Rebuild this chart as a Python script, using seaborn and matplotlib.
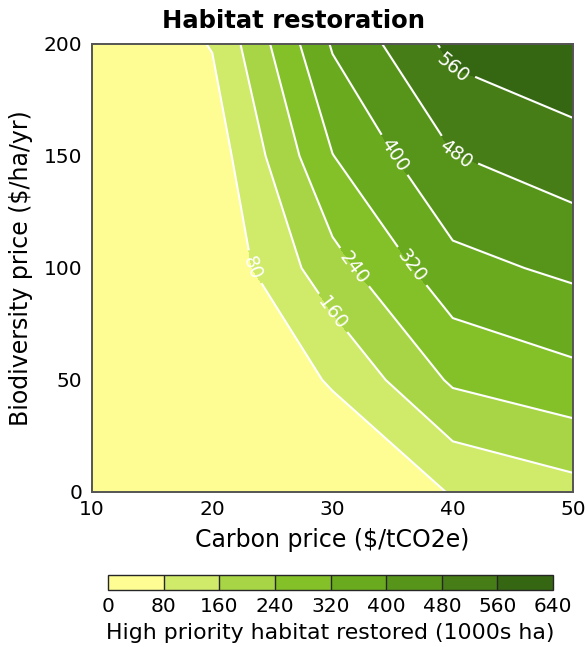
import numpy as np
import pandas as pd
import seaborn as sns
import matplotlib
matplotlib.use("Agg")
import matplotlib.pyplot as plt

# Grid of prices the model was run on
carbon_price = [10, 20, 30, 40, 50]          # $/tCO2e
biodiversity_price = [0, 50, 100, 150, 200]  # $/ha/yr

# High priority habitat restored (1000s ha), one row per biodiversity price
restored_bio_0 = [0, 0, 15, 84, 132]
restored_bio_50 = [0, 5, 87, 252, 296]
restored_bio_100 = [0, 16, 210, 375, 417]
restored_bio_150 = [0, 34, 318, 477, 526]
restored_bio_200 = [0, 84, 408, 582, 626]

levels = [0, 80, 160, 240, 320, 400, 480, 560, 640]
band_colors = ["#fdfd94", "#d0ea69", "#a8d545", "#84c128", "#6aaa1e",
               "#57951a", "#467d16", "#356612"]

# where the contour labels sit (carbon, biodiversity)
label_spots = [(23.3, 100), (29.8, 79), (32.0, 101), (36.4, 100),
               (35.0, 150), (40.3, 151), (40.0, 189)]

sns.set_style("ticks")
plt.rcParams['font.family'] = ['DejaVu Sans']
plt.rcParams['text.color'] = 'black'

table = pd.DataFrame([restored_bio_0, restored_bio_50, restored_bio_100,
                      restored_bio_150, restored_bio_200],
                     index=biodiversity_price, columns=carbon_price)
X, Y = np.meshgrid(table.columns.values, table.index.values)
Z = table.values.astype(float)

fig = plt.figure(figsize=(5.88, 6.47), dpi=100)
ax = fig.add_axes([0.1565, 0.2396, 0.818, 0.6924])

cf = ax.contourf(X, Y, Z, levels=levels, colors=band_colors)
cs = ax.contour(X, Y, Z, levels=levels[1:-1], colors="white", linewidths=1.5)
ax.clabel(cs, fmt="%d", fontsize=13.5, colors="white", manual=label_spots,
          inline=True, inline_spacing=6)

ax.set_xlim(10, 50)
ax.set_ylim(0, 200)
ax.set_xticks([10, 20, 30, 40, 50])
ax.set_yticks([0, 50, 100, 150, 200])
ax.tick_params(direction="in", top=True, right=True, length=5, width=1.2,
               labelsize=14.5, color="#333333", labelcolor="black")
ax.tick_params(axis="y", pad=7)
ax.tick_params(axis="x", pad=6)
for sp in ax.spines.values():
    sp.set_color("#555555")
    sp.set_linewidth(1.4)

# title is centred on the whole figure, not on the axes
fig.text(0.5, 1 - 21 / 647, "Habitat restoration", fontsize=17.5,
         fontweight="bold", ha="center", va="center", color="black")
ax.set_xlabel("Carbon price ($/tCO2e)", fontsize=17, labelpad=6, color="black")
ax.set_ylabel("Biodiversity price ($/ha/yr)", fontsize=17, labelpad=8,
              color="black")

cax = fig.add_axes([0.1837, 0.0881, 0.757, 0.0232])
cb = fig.colorbar(cf, cax=cax, orientation="horizontal", ticks=levels,
                  drawedges=True)
cb.outline.set_linewidth(1.0)
cb.dividers.set_linewidth(1.0)
cb.ax.tick_params(length=0, labelsize=14.5, pad=5, labelcolor="black")
cb.set_label("High priority habitat restored (1000s ha)", fontsize=15.8,
             labelpad=5, color="black")

fig.savefig("out.png", dpi=100)
